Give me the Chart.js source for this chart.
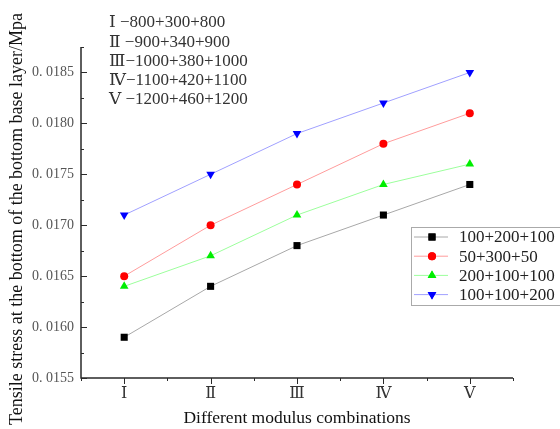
<!DOCTYPE html>
<html>
<head>
<meta charset="utf-8">
<script src="https://cdn.jsdelivr.net/npm/chart.js@4/dist/chart.umd.min.js"></script>
<style>
    html, body { margin: 0; padding: 0; background: #fff; }
    canvas { display: block; }
</style>
</head>
<body>
<canvas id="stressChart" width="560" height="429"></canvas>
<script>
const combos = ['Ⅰ', 'Ⅱ', 'Ⅲ', 'Ⅳ', 'Ⅴ']
const comboNotes = [
    'Ⅰ −800+300+800',
    'Ⅱ −900+340+900',
    'Ⅲ−1000+380+1000',
    'Ⅳ−1100+420+1100',
    'Ⅴ −1200+460+1200',
]
const seriesNames = ['100+200+100', '50+300+50', '200+100+100', '100+100+200']
const stressA = [0.0159, 0.0164, 0.0168, 0.0171, 0.0174]
const stressB = [0.0165, 0.0170, 0.0174, 0.0178, 0.0181]
const stressC = [0.0164, 0.0167, 0.0171, 0.0174, 0.0176]
const stressD = [0.0171, 0.0175, 0.0179, 0.0182, 0.0185]
const yTicks = [0.0155, 0.0160, 0.0165, 0.0170, 0.0175, 0.0180, 0.0185]

const SERIF = "'Liberation Serif', 'DejaVu Serif', serif"

function toPoints(values) {
    return values.map(function (v, i) {
        return { x: i + 1, y: v }
    })
}

function makeSet(label, values, line, fill, style, rotation, radius) {
    return {
        label: label,
        data: toPoints(values),
        borderColor: line,
        borderWidth: 1,
        backgroundColor: fill,
        pointBackgroundColor: fill,
        pointBorderColor: fill,
        pointBorderWidth: 0,
        pointStyle: style,
        pointRotation: rotation,
        pointRadius: radius,
        pointHoverRadius: radius,
        tension: 0,
        clip: false,
    }
}

const sets = [
    makeSet(seriesNames[0], stressA, '#a8a8a8', '#000000', 'rect', 0, 5),
    makeSet(seriesNames[1], stressB, '#ff9c9c', '#ff0000', 'circle', 0, 4),
    makeSet(seriesNames[2], stressC, '#9cff9c', '#00ee00', 'triangle', 0, 5),
    makeSet(seriesNames[3], stressD, '#a0a0ff', '#0000ff', 'triangle', 180, 5),
]

// axes, ticks, titles, notes and the legend box are drawn by hand
const framePlugin = {
    id: 'frame',
    afterDatasetsDraw(chart) {
        const ctx = chart.ctx
        const area = chart.chartArea
        const xs = chart.scales.x
        const ys = chart.scales.y
        ctx.save()

        // axis lines
        ctx.strokeStyle = '#2a2a2a'
        ctx.lineWidth = 1.5
        ctx.beginPath()
        ctx.moveTo(area.left, area.top)
        ctx.lineTo(area.left, area.bottom)
        ctx.lineTo(area.right, area.bottom)
        ctx.stroke()

        // y ticks point into the plot
        ctx.lineWidth = 1
        ctx.beginPath()
        for (let v = ys.min; v <= ys.max + 1e-9; v += 0.00025) {
            const py = Math.round(ys.getPixelForValue(v)) + 0.5
            const major = Math.abs(v * 2000 - Math.round(v * 2000)) < 1e-6
            ctx.moveTo(area.left, py)
            ctx.lineTo(area.left + (major ? 6 : 3), py)
        }
        // x ticks point down
        for (let k = 0.5; k <= 5.5; k += 0.5) {
            const px = Math.round(xs.getPixelForValue(k)) + 0.5
            const major = k % 1 === 0
            ctx.moveTo(px, area.bottom)
            ctx.lineTo(px, area.bottom + (major ? 6 : 3))
        }
        ctx.stroke()

        // tick labels
        ctx.fillStyle = '#555'
        ctx.font = '14px ' + SERIF
        ctx.textAlign = 'right'
        ctx.textBaseline = 'middle'
        yTicks.forEach(function (v) {
            const label = '0. ' + v.toFixed(4).slice(2)
            ctx.fillText(label, area.left - 7, ys.getPixelForValue(v))
        })
        ctx.fillStyle = '#333'
        ctx.font = '16px ' + SERIF
        ctx.textAlign = 'center'
        combos.forEach(function (c, i) {
            ctx.fillText(c, xs.getPixelForValue(i + 1), area.bottom + 16)
        })

        // axis titles
        ctx.fillStyle = '#111'
        ctx.font = '17.5px ' + SERIF
        ctx.fillText('Different modulus combinations', 297, 418)
        ctx.save()
        ctx.translate(17, 219)
        ctx.rotate(-Math.PI / 2)
        ctx.font = '18px ' + SERIF
        ctx.fillText('Tensile stress at the bottom of the bottom base layer/Mpa', 0, 0)
        ctx.restore()

        // modulus notes
        ctx.fillStyle = '#333'
        ctx.font = '17px ' + SERIF
        ctx.textAlign = 'left'
        comboNotes.forEach(function (t, i) {
            ctx.fillText(t, 109, 23 + i * 19.2)
        })

        // legend box, its right edge runs off the canvas
        const lx = 411, ly = 227, lw = 155, lh = 79
        ctx.fillStyle = '#fff'
        ctx.fillRect(lx, ly, lw, lh)
        ctx.strokeStyle = '#aaa'
        ctx.lineWidth = 1
        ctx.strokeRect(lx + 0.5, ly + 0.5, lw - 1, lh - 1)
        ctx.font = '17px ' + SERIF
        chart.data.datasets.forEach(function (ds, i) {
            const ry = ly + 10 + i * 19.2
            ctx.strokeStyle = ds.borderColor
            ctx.beginPath()
            ctx.moveTo(lx + 3, ry)
            ctx.lineTo(lx + 37, ry)
            ctx.stroke()
            ctx.fillStyle = ds.pointBackgroundColor
            Chart.helpers.drawPoint(ctx, {
                pointStyle: ds.pointStyle,
                rotation: ds.pointRotation,
                radius: ds.pointRadius,
                borderWidth: 0,
            }, lx + 21, ry)
            ctx.fill()
            ctx.fillStyle = '#222'
            ctx.textAlign = 'left'
            ctx.fillText(ds.label, lx + 48, ry + 1)
        })
        ctx.restore()
    },
}

new Chart(document.getElementById('stressChart'), {
    type: 'line',
    data: { datasets: sets },
    options: {
        responsive: false,
        animation: false,
        events: [],
        layout: { padding: { left: 81, right: 47, top: 47, bottom: 51 } },
        plugins: { legend: { display: false }, tooltip: { enabled: false } },
        scales: {
            x: { type: 'linear', min: 0.5, max: 5.5, display: false },
            y: { type: 'linear', min: 0.0155, max: 0.01875, display: false },
        },
    },
    plugins: [framePlugin],
})
</script>
</body>
</html>
